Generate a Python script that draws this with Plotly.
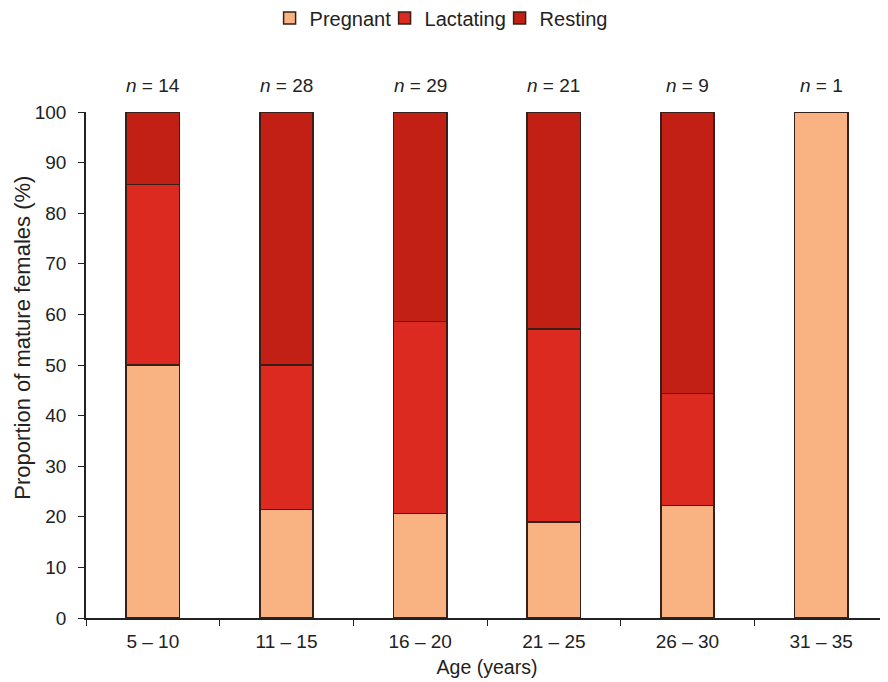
import plotly.graph_objects as go

categories = ["5 – 10", "11 – 15", "16 – 20", "21 – 25", "26 – 30", "31 – 35"]
n_values = [14, 28, 29, 21, 9, 1]
pregnant = [50.0, 21.4, 20.7, 19.0, 22.2, 100.0]
lactating = [35.7, 28.6, 37.9, 38.1, 22.2, 0.0]
resting = [14.3, 50.0, 41.4, 42.9, 55.6, 0.0]

series = [
    ("Pregnant", pregnant, "#F9B282"),
    ("Lactating", lactating, "#DD2A20"),
    ("Resting", resting, "#C22015"),
]

fig = go.Figure()
for name, vals, color in series:
    fig.add_trace(go.Bar(
        x=categories, y=vals, name=name,
        marker=dict(color=color, line=dict(color="#3a1f18", width=1.5)),
    ))

for cat, n in zip(categories, n_values):
    fig.add_annotation(
        x=cat, y=100, text=f"<i>n</i> = {n}", showarrow=False,
        yshift=27, font=dict(size=19, color="#222222"),
    )

# y-axis title placed as rotated annotation (sits slightly above plot centre)
fig.add_annotation(
    xref="paper", yref="paper", x=-0.0786, y=0.554,
    text="Proportion of mature females (%)", textangle=-90,
    showarrow=False, xanchor="center", yanchor="middle",
    font=dict(size=22, color="#222222"),
)

fig.update_layout(
    barmode="stack",
    bargap=0.6,
    width=880, height=674,
    margin=dict(l=78, r=0, t=104, b=64, autoexpand=False),
    paper_bgcolor="white", plot_bgcolor="white",
    font=dict(family="Liberation Sans, Arial, sans-serif", size=19, color="#222222"),
    legend=dict(
        orientation="h", x=0.444, xanchor="center", y=1.186, yanchor="middle",
        font=dict(size=20), traceorder="normal", itemwidth=30,
        entrywidth=70, entrywidthmode="pixels",
    ),
    showlegend=True,
)
fig.update_xaxes(
    automargin=False,
    showline=True, linecolor="#222222", linewidth=1.5,
    ticks="outside", ticklen=6, tickcolor="#222222", tickson="boundaries",
    tickfont=dict(size=19), ticklabelstandoff=5,
    title=dict(text="Age (years)", standoff=10, font=dict(size=19.5)),
    showgrid=False,
)
fig.update_yaxes(
    automargin=False,
    range=[0, 100], dtick=10, showline=True, linecolor="#222222", linewidth=1.5,
    ticks="outside", ticklen=6, tickcolor="#222222",
    tickfont=dict(size=19), ticklabelstandoff=8,
    showgrid=False, zeroline=False,
)

fig.write_html("out.html")
